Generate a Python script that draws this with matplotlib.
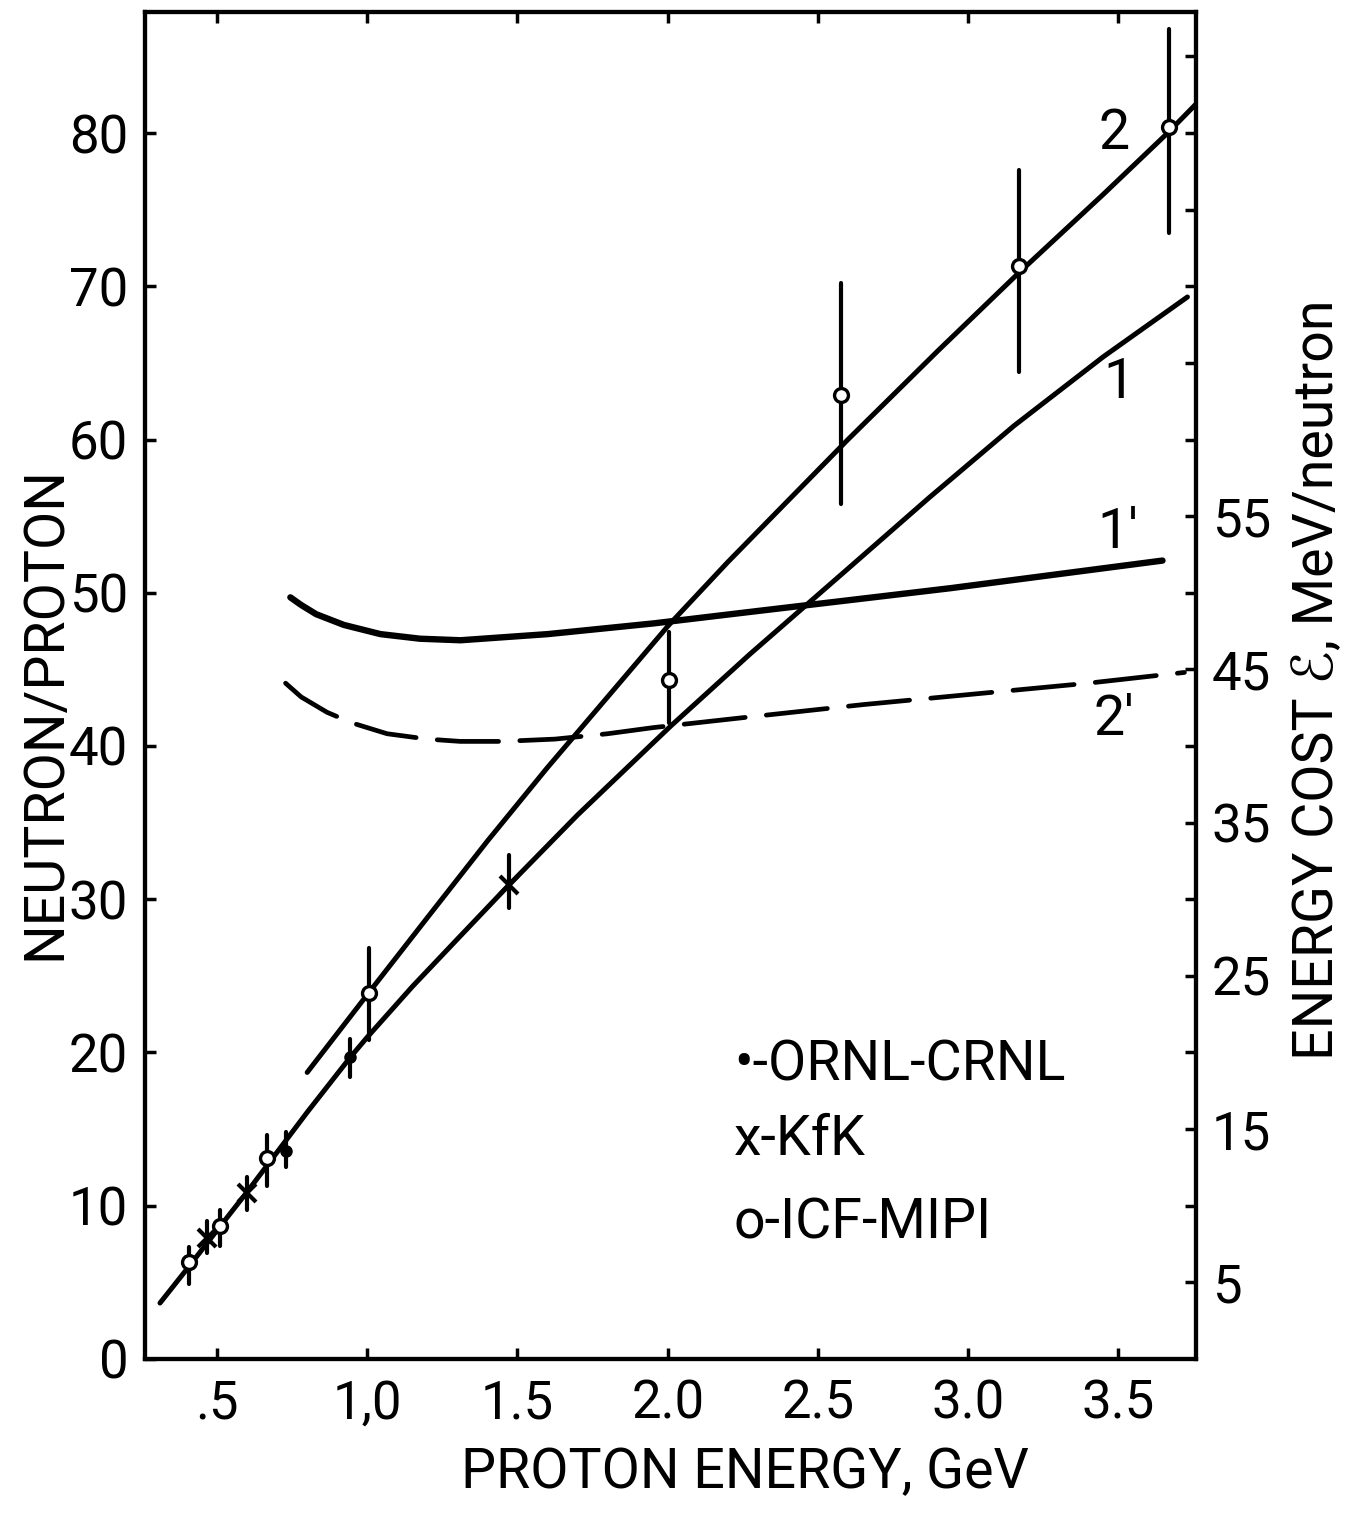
import matplotlib
matplotlib.use('Agg')
import matplotlib.pyplot as plt

plt.rcParams['font.family'] = ['Roboto', 'DejaVu Sans']

# calculated curves
curve1_x = [0.31, 0.405, 0.5, 0.6, 0.7, 0.8, 0.944, 1.0, 1.15, 1.3, 1.47, 1.7, 2.01, 2.274, 2.596, 2.87, 3.153, 3.45, 3.73]
curve1_y = [3.65, 6.0, 8.4, 10.9, 13.5, 16.1, 19.7, 21.0, 24.3, 27.4, 30.9, 35.5, 41.3, 46.0, 51.5, 56.2, 60.9, 65.4, 69.3]

curve2_x = [0.80, 1.005, 1.2, 1.4, 1.6, 1.8, 2.004, 2.2, 2.4, 2.6, 2.9, 3.17, 3.45, 3.664, 3.764]
curve2_y = [18.7, 23.9, 28.8, 33.8, 38.6, 43.2, 47.9, 52.0, 56.0, 60.0, 65.8, 70.9, 76.0, 80.0, 82.0]

cost1_x = [0.744, 0.78, 0.83, 0.922, 1.044, 1.176, 1.31, 1.6, 1.953, 2.274, 2.942, 3.647]
cost1_y = [49.7, 49.2, 48.6, 47.9, 47.3, 47.0, 46.9, 47.3, 48.0, 48.75, 50.3, 52.1]

cost2_x = [0.728, 0.78, 0.866, 0.95, 1.066, 1.2, 1.31, 1.45, 1.625, 1.8, 1.952, 2.274, 2.65, 3.025, 3.4, 3.72]
cost2_y = [44.1, 43.2, 42.2, 41.5, 40.8, 40.45, 40.3, 40.3, 40.45, 40.8, 41.2, 41.9, 42.7, 43.4, 44.1, 44.8]

# measurements: energy, value, error-bar low, error-bar high
icf_x = [0.405, 0.511, 0.667, 1.005, 2.004, 2.576, 3.170, 3.669]
icf_y = [6.3, 8.7, 13.1, 23.9, 44.3, 62.9, 71.3, 80.4]
icf_lo = [4.9, 7.4, 11.3, 20.8, 41.5, 55.8, 64.4, 73.5]
icf_hi = [7.3, 9.7, 14.6, 26.8, 47.45, 70.2, 77.6, 86.8]

ornl_x = [0.728, 0.944]
ornl_y = [13.6, 19.7]
ornl_lo = [12.5, 18.4]
ornl_hi = [14.8, 20.9]

kfk_x = [0.467, 0.600, 1.471]
kfk_y = [7.9, 10.8, 30.9]
kfk_lo = [6.9, 9.7, 29.4]
kfk_hi = [9.0, 11.9, 32.9]

x_ticks = [0.5, 1.0, 1.5, 2.0, 2.5, 3.0, 3.5]
x_ticklabels = ['.5', '1,0', '1.5', '2.0', '2.5', '3.0', '3.5']
y_ticks = [0, 10, 20, 30, 40, 50, 60, 70, 80]
right_ticks = list(range(5, 90, 5))
right_labels = ['5', '15', '25', '35', '45', '55']

FS = 38       # tick labels
FS_TXT = 40   # axis titles, key, curve labels

fig = plt.figure(figsize=(13.51, 15.13), dpi=100)
ax = fig.add_axes([0.1073, 0.1018, 0.7783, 0.8903])
ax.set_xlim(0.26, 3.76)
ax.set_ylim(0, 87.9)

ax.plot(curve1_x, curve1_y, color='k', lw=3.6, solid_capstyle='round', solid_joinstyle='round')
ax.plot(curve2_x, curve2_y, color='k', lw=3.6, solid_capstyle='round', solid_joinstyle='round')
ax.plot(cost1_x, cost1_y, color='k', lw=4.6, solid_capstyle='round', solid_joinstyle='round')
ax.plot(cost2_x, cost2_y, color='k', lw=3.4, linestyle=(0, (13, 4.5)),
        dash_capstyle='round', dash_joinstyle='round')

# error bars first, markers on top
for xs, lo, hi in [(icf_x, icf_lo, icf_hi), (ornl_x, ornl_lo, ornl_hi), (kfk_x, kfk_lo, kfk_hi)]:
    vl = ax.vlines(xs, lo, hi, color='k', lw=3.0)
    vl.set_capstyle('round')

ax.plot(icf_x, icf_y, 'o', ms=10, mfc='white', mec='k', mew=2.4, zorder=5)
ax.plot(ornl_x, ornl_y, 'o', ms=8, color='k', zorder=5)
ax.plot(kfk_x, kfk_y, 'x', ms=13, mec='k', mew=3, zorder=5)

# curve labels
ax.text(3.485, 80.0, '2', fontsize=FS_TXT, ha='center', va='center')
ax.text(3.501, 63.7, '1', fontsize=FS_TXT, ha='center', va='center')
ax.text(3.497, 53.9, '1\u2032', fontsize=FS_TXT, ha='center', va='center')
ax.text(3.486, 41.7, '2\u2032', fontsize=FS_TXT, ha='center', va='center')

# hand-written key
ax.text(2.22, 19.2, '\u2022-ORNL-CRNL', fontsize=FS_TXT, ha='left', va='center')
ax.text(2.22, 14.3, 'x-KfK', fontsize=FS_TXT, ha='left', va='center')
ax.text(2.22, 8.9, 'o-ICF-MIPI', fontsize=FS_TXT, ha='left', va='center')

ax.set_xticks(x_ticks)
ax.set_xticklabels(x_ticklabels)
ax.set_yticks(y_ticks)
ax.tick_params(axis='both', direction='in', length=8, width=2.5, labelsize=FS,
               top=True, right=False)
ax.tick_params(axis='x', pad=14)
ax.tick_params(axis='y', pad=12)
for s in ax.spines.values():
    s.set_linewidth(3)

ax2 = ax.twinx()
ax2.set_ylim(ax.get_ylim())
ax2.set_yticks(right_ticks)
ax2.set_yticklabels([str(t) if str(t) in right_labels else '' for t in right_ticks])
ax2.tick_params(axis='y', direction='in', length=8, width=2.5, labelsize=FS, pad=11)
for s in ax2.spines.values():
    s.set_linewidth(3)

fig.text(0.0333, 0.529, 'NEUTRON/PROTON', rotation=90, fontsize=FS_TXT, ha='center', va='center')
fig.text(0.5514, 0.0264, 'PROTON ENERGY, GeV', fontsize=FS_TXT, ha='center', va='center')
fig.text(0.9756, 0.5506, 'ENERGY COST \u2130, MeV/neutron', rotation=90, fontsize=FS_TXT,
         ha='center', va='center')

fig.savefig('out.png', dpi=100)
